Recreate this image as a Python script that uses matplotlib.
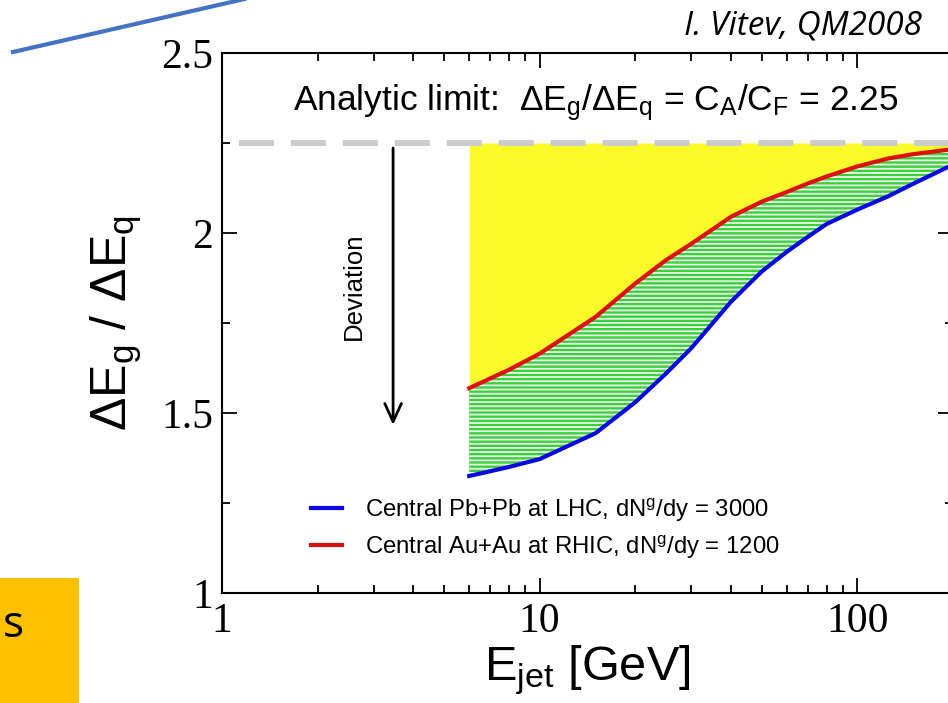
import matplotlib.pyplot as plt
from matplotlib.lines import Line2D
from matplotlib.patches import Rectangle
from matplotlib.ticker import FixedLocator, NullFormatter, LogLocator

plt.rcParams['font.family'] = ['Liberation Sans', 'DejaVu Sans']
plt.rcParams['mathtext.fontset'] = 'custom'
plt.rcParams['mathtext.rm'] = 'Liberation Sans'
plt.rcParams['mathtext.it'] = 'Liberation Sans:italic'
plt.rcParams['hatch.linewidth'] = 1.3
plt.rcParams['lines.scale_dashes'] = False

# jet energy grid and gluon/quark energy-loss ratio
E_jet = [6, 8, 10, 15, 20, 25, 30, 40, 50, 60, 70, 80, 100, 125, 150, 200]
ratio_rhic = [1.569, 1.62, 1.665, 1.767, 1.86, 1.925, 1.97, 2.045, 2.087,
              2.114, 2.138, 2.157, 2.185, 2.207, 2.219, 2.233]
ratio_lhc = [1.325, 1.35, 1.372, 1.444, 1.53, 1.61, 1.68, 1.809, 1.893,
             1.948, 1.99, 2.025, 2.065, 2.102, 2.137, 2.19]
casimir_ratio = 2.25

label_lhc = 'Central Pb+Pb at LHC, dN$^\\mathrm{g}$/dy = 3000'
label_rhic = 'Central Au+Au at RHIC, dN$^\\mathrm{g}$/dy = 1200'

x_ticks = [1, 10, 100]
x_ticklabels = ['1', '10', '100']
y_ticks = [1, 1.5, 2, 2.5]
y_ticklabels = ['1', '1.5', '2', '2.5']

W, H = 948, 703
fig = plt.figure(figsize=(W / 100, H / 100), dpi=100)
ax = fig.add_axes([222 / W, (H - 593) / H, 731 / W, 540 / H])

# yellow band up to the analytic limit, hatched green band between the curves
ax.fill_between(E_jet, ratio_rhic, casimir_ratio, color='#fbfb2c', lw=0, zorder=1)
ax.fill_between(E_jet, ratio_lhc, ratio_rhic, facecolor='#3ccf3c',
                edgecolor='#eaffea', hatch='----', lw=0, zorder=1)
ax.plot([1, 200], [casimir_ratio, casimir_ratio], color='#cccccc', lw=4.3,
        linestyle=(25.2, (25.2, 12.2)), zorder=2)
ax.plot(E_jet, ratio_lhc, color='#0a0ae0', lw=3, label=label_lhc, zorder=3)
ax.plot(E_jet, ratio_rhic, color='#e01010', lw=3, label=label_rhic, zorder=3)

ax.set_xscale('log')
ax.set_xlim(1, 200)
ax.set_ylim(1, 2.5)

ax.xaxis.set_major_locator(FixedLocator(x_ticks))
ax.set_xticklabels(x_ticklabels)
ax.xaxis.set_minor_locator(LogLocator(base=10, subs=range(2, 10)))
ax.xaxis.set_minor_formatter(NullFormatter())
ax.yaxis.set_major_locator(FixedLocator(y_ticks))
ax.set_yticklabels(y_ticklabels)
ax.yaxis.set_minor_locator(FixedLocator([1.25, 1.75, 2.25]))

ax.tick_params(which='both', direction='in', top=True, right=True, width=1.3,
               pad=6.5)
ax.tick_params(which='major', length=11)
ax.tick_params(which='minor', length=6)
for lab in ax.get_xticklabels() + ax.get_yticklabels():
    lab.set_fontfamily('Liberation Serif')
    lab.set_fontsize(30)
for sp in ax.spines.values():
    sp.set_linewidth(1.5)

ax.set_xlabel('E$_\\mathrm{jet}$ [GeV]', fontsize=35, labelpad=2)
ax.set_ylabel('$\\Delta$E$_\\mathrm{g}$ / $\\Delta$E$_\\mathrm{q}$',
              fontsize=36, labelpad=12)

ax.text(0.097, 0.894,
        'Analytic limit:  $\\Delta$E$_\\mathrm{g}$/$\\Delta$E$_\\mathrm{q}$'
        ' = C$_\\mathrm{A}$/C$_\\mathrm{F}$ = 2.25',
        transform=ax.transAxes, fontsize=25.5, va='baseline', ha='left')

ax.annotate('', xy=(3.456, 1.467), xytext=(3.456, 2.236),
            arrowprops=dict(arrowstyle='->,head_length=0.65,head_width=0.3',
                            lw=2, color='black', mutation_scale=20,
                            shrinkA=0, shrinkB=0))
ax.text(2.6, 1.853, 'Deviation', rotation=90, fontsize=18.5,
        ha='center', va='center')

ax.legend(loc='upper left', bbox_to_anchor=(0.1218, 0.179), frameon=False,
          fontsize=17.2, handlelength=1.3, handletextpad=0.95,
          labelspacing=0.42, borderpad=0, borderaxespad=0)

# slide decorations around the plot
fig.add_artist(Line2D([13 / W, 262 / W], [1 - 52 / H, 1 + 5 / H],
                      color='#4472c4', lw=3))
fig.text(922 / W, 1 - 35 / H, 'I. Vitev, QM2008', fontsize=24,
         fontfamily='Open Sans', style='italic', ha='right', va='baseline')
fig.add_artist(Rectangle((0, 0), 79 / W, 125 / H, transform=fig.transFigure,
                         color='#ffc000', lw=0))
fig.text(3 / W, 1 - 637 / H, 's', fontsize=32, fontfamily='Open Sans',
         ha='left', va='baseline')

fig.savefig('out.png', dpi=100)
